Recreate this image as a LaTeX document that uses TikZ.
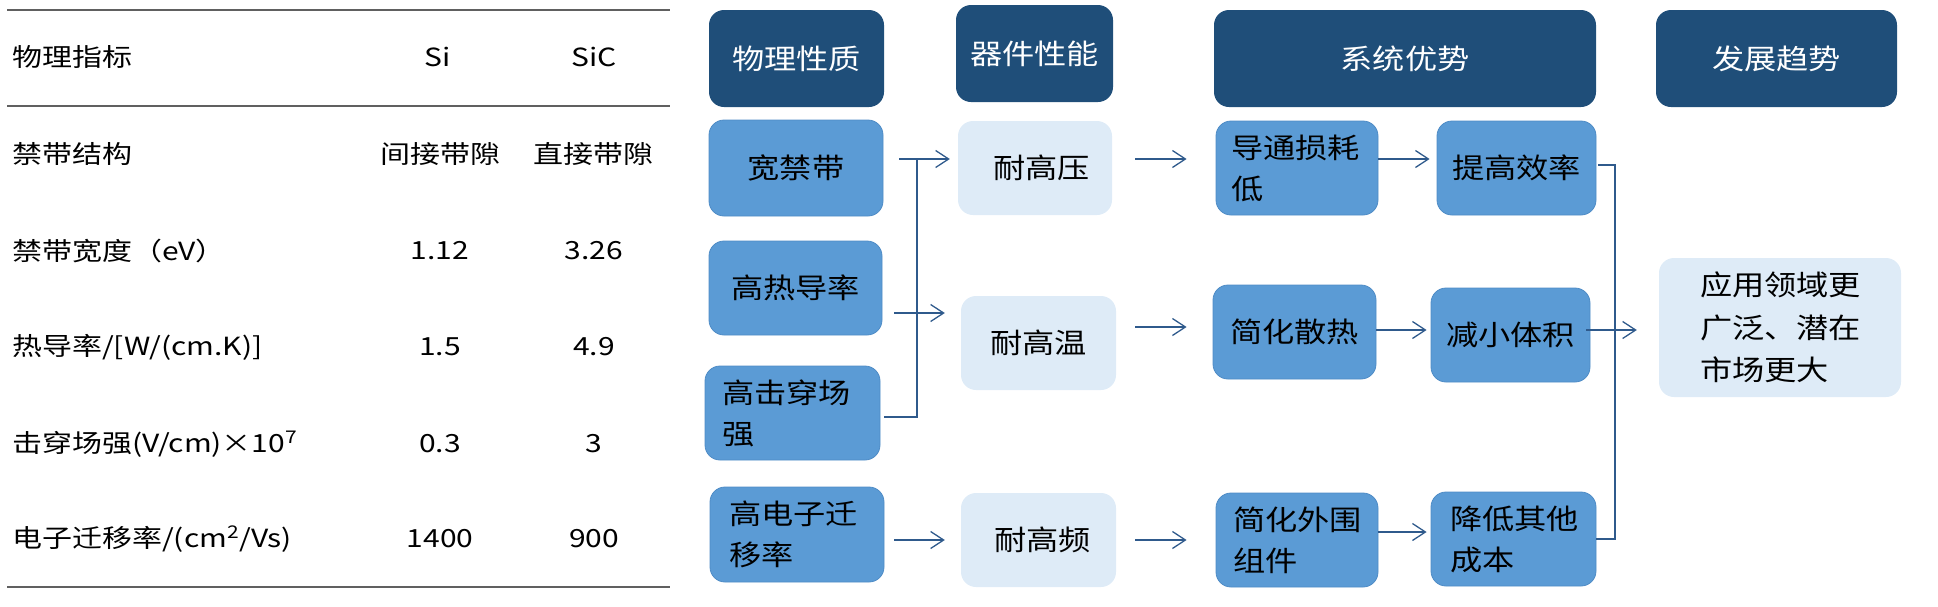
\documentclass[tikz,border=0pt]{standalone}
\usepackage{fontspec}
\setmainfont{Noto Sans CJK SC}[FakeStretch=1.15]
\newfontfamily\tabfont{Noto Sans CJK SC}[FakeStretch=1.2]
\usetikzlibrary{arrows.meta}
\definecolor{hdrc}{HTML}{1F4E79}
\definecolor{midc}{HTML}{5B9BD5}
\definecolor{midb}{HTML}{4F8CC6}
\definecolor{litec}{HTML}{DEEBF7}
\definecolor{linec}{HTML}{2F5A8C}
\definecolor{rulec}{HTML}{606060}
\tikzset{
  boxbase/.style={rounded corners=15pt, inner sep=0pt, font=\fontsize{28}{41}\selectfont, align=center},
  hdr/.style={boxbase, fill=hdrc, text=white},
  midbox/.style={boxbase, fill=midc, draw=midb, line width=0.8pt},
  litebox/.style={boxbase, fill=litec},
  lefttext/.style={align=left, text width=#1},
  conn/.style={draw=linec, line width=1.3pt},
  arr/.style={conn, -{Straight Barb[length=13pt,width=17pt,line width=1.3pt]}},
  tabtxt/.style={font=\tabfont\fontsize{25}{30}\selectfont, inner sep=0pt},
  tabrule/.style={draw=rulec, line width=1.5pt}
}
\begin{document}
\begin{tikzpicture}[x=1pt,y=-1pt]
\useasboundingbox (0,0) rectangle (1938,606);
% ---------------- table ----------------
\draw[tabrule] (7,10) -- (670,10);
\draw[tabrule] (7,106) -- (670,106);
\draw[tabrule] (7,587) -- (670,587);
\node[tabtxt, anchor=west] (r0l) at (12,57) {物理指标};
\node[tabtxt] (r0a) at (438,57) {Si};
\node[tabtxt] (r0b) at (594,57) {SiC};
\node[tabtxt, anchor=west] (r1l) at (12,154) {禁带结构};
\node[tabtxt] (r1a) at (440,154) {间接带隙};
\node[tabtxt] (r1b) at (593,154) {直接带隙};
\node[tabtxt, anchor=west] (r2l) at (12,251) {禁带宽度（eV）};
\node[tabtxt] (r2a) at (440,251) {1.12};
\node[tabtxt] (r2b) at (594,251) {3.26};
\node[tabtxt, anchor=west] (r3l) at (12,347) {热导率/[W/(cm.K)]};
\node[tabtxt] (r3a) at (440,347) {1.5};
\node[tabtxt] (r3b) at (594,347) {4.9};
\node[tabtxt, anchor=west] (r4l) at (12,444) {击穿场强(V/cm)×10\textsuperscript{7}};
\node[tabtxt] (r4a) at (440,444) {0.3};
\node[tabtxt] (r4b) at (594,444) {3};
\node[tabtxt, anchor=west] (r5l) at (12,539) {电子迁移率/(cm\textsuperscript{2}/Vs)};
\node[tabtxt] (r5a) at (440,539) {1400};
\node[tabtxt] (r5b) at (594,539) {900};
% ---------------- headers ----------------
\node[hdr, minimum width=175pt, minimum height=97pt] (h1) at (796.5,58.5) {物理性质};
\node[hdr, minimum width=157pt, minimum height=97pt] (h2) at (1034.5,53.5) {器件性能};
\node[hdr, minimum width=382pt, minimum height=97pt] (h3) at (1405,58.5) {系统优势};
\node[hdr, minimum width=241pt, minimum height=97pt] (h4) at (1776.5,58.5) {发展趋势};
% ---------------- column 1 ----------------
\node[midbox, minimum width=174pt, minimum height=96pt] (w1) at (796,168) {宽禁带};
\node[midbox, minimum width=173pt, minimum height=94pt] (w2) at (795.5,288) {高热导率};
\node[midbox, minimum height=94pt, inner xsep=17pt, lefttext=141pt] (w3) at (792.5,413) {高击穿场\\强};
\node[midbox, minimum height=95pt, inner xsep=19pt, lefttext=136pt] (w4) at (797,534.5) {高电子迁\\移率};
% ---------------- column 2 ----------------
\node[litebox, minimum width=154pt, minimum height=94pt] (n1) at (1035,168) {\hspace{13pt}耐高压};
\node[litebox, minimum width=155pt, minimum height=94pt] (n2) at (1038.5,343) {耐高温};
\node[litebox, minimum width=155pt, minimum height=94pt] (n3) at (1038.5,540) {\hspace{8pt}耐高频};
% ---------------- column 3 ----------------
\node[midbox, minimum height=94pt, inner xsep=15pt, lefttext=132pt] (s1) at (1297,168) {导通损耗\\低};
\node[midbox, minimum width=163pt, minimum height=94pt] (s2) at (1294.5,332) {简化散热};
\node[midbox, minimum height=94pt, inner xsep=17pt, lefttext=128pt] (s3) at (1297,540) {简化外围\\组件};
% ---------------- column 4 ----------------
\node[midbox, minimum width=159pt, minimum height=94pt] (t1) at (1516.5,168) {提高效率};
\node[midbox, minimum width=159pt, minimum height=94pt] (t2) at (1510.5,335) {减小体积};
\node[midbox, minimum height=94pt, inner xsep=19pt, lefttext=127pt] (t3) at (1513.5,539) {降低其他\\成本};
% ---------------- trend ----------------
\node[litebox, minimum height=139pt, inner xsep=41pt, lefttext=160pt, font=\fontsize{28}{42.5}\selectfont] (f) at (1780,327.5) {应用领域更\\广泛、潜在\\市场更大};
% ---------------- connectors ----------------
\coordinate (jt) at (917,159);
\coordinate (jr) at (1615,539);
\draw[arr, shorten <=16pt, shorten >=8pt] ([yshift=9pt]w1.east) -- ([yshift=9pt]n1.west);
\draw[arr, shorten <=12pt, shorten >=16pt] ([yshift=-25pt]w2.east) -- ([yshift=-25pt]w2.east -| n2.west);
\draw[conn, shorten <=4pt] ([yshift=-4pt]w3.east) -| (jt);
\draw[arr, shorten <=10pt, shorten >=16pt] (w4.east |- n3.west) -- (n3.west);
\draw[arr, shorten <=23pt, shorten >=29pt] ([yshift=9pt]n1.east) -- ([yshift=9pt]s1.west);
\draw[arr, shorten <=19pt, shorten >=26pt] ([yshift=5pt]s2.west -| n2.east) -- ([yshift=5pt]s2.west);
\draw[arr, shorten <=19pt, shorten >=29pt] (n3.east) -- (s3.west);
\draw[arr, shorten >=7pt] ([yshift=9pt]s1.east) -- ([yshift=9pt]s1.east -| t1.west);
\draw[arr, shorten >=4pt] ([yshift=2pt]s2.east) -- ([yshift=2pt]s2.east -| t2.west);
\draw[arr, shorten >=4pt] ([yshift=8pt]s3.east) -- ([yshift=8pt]s3.east -| t3.west);
\draw[conn] ([yshift=3pt,xshift=2pt]t1.east) -| (jr) -- (t3.east);
\draw[arr, shorten <=-4pt, shorten >=22pt] ([yshift=5pt]t2.east) -- ([yshift=5pt]t2.east -| f.west);
\end{tikzpicture}
\end{document}
